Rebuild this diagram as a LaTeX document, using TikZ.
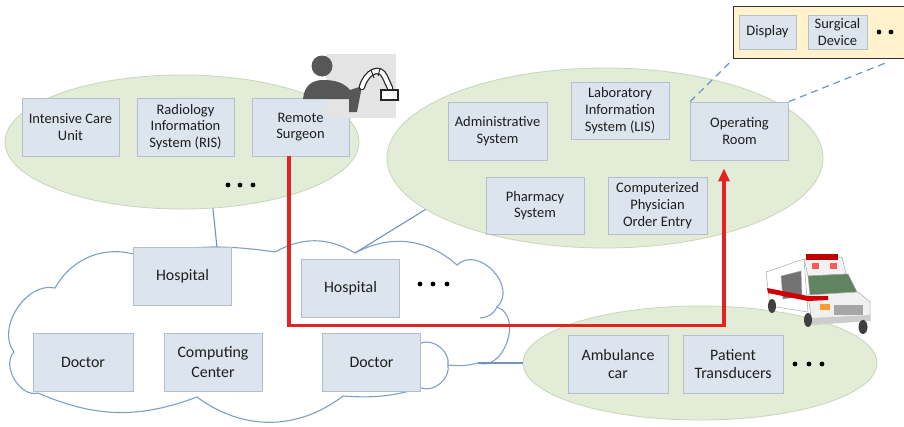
\documentclass[tikz,border=0pt]{standalone}
\usepackage{fontspec}
\setmainfont{Carlito}
\usetikzlibrary{shapes.geometric,arrows.meta}

\definecolor{boxfill}{HTML}{DCE4EE}
\definecolor{boxline}{HTML}{B3BFCD}
\definecolor{zonefill}{HTML}{E2ECD6}
\definecolor{zoneline}{HTML}{C8D6B8}
\definecolor{linkblue}{HTML}{6F95BE}
\definecolor{redpath}{HTML}{E02424}
\definecolor{notefill}{HTML}{FFF2CC}
\definecolor{txt}{HTML}{1E1E1E}
\definecolor{iconbg}{HTML}{E4E4E4}
\definecolor{person}{HTML}{575757}

\tikzset{
  sysbox/.style={draw=boxline, line width=0.8pt, fill=boxfill,
    minimum width=98pt, minimum height=58pt, inner sep=0pt, align=center,
    font=\fontsize{14.5}{16.7}\selectfont, text=txt},
  bigbox/.style={sysbox, font=\fontsize{15.9}{17.5}\selectfont},
  zone/.style={ellipse, draw=zoneline, fill=zonefill, line width=0.8pt, inner sep=0pt},
  link/.style={draw=linkblue, line width=1.1pt},
  dashlink/.style={draw=linkblue, line width=1.2pt, dash pattern=on 7pt off 5pt},
  cloudline/.style={draw=linkblue!90, line width=1.1pt},
  dotfill/.style={fill=black},
}

\begin{document}
\begin{tikzpicture}[x=1pt,y=-1pt]
\useasboundingbox (0,0) rectangle (904,426);
\fill[white] (0,0) rectangle (904,426);

% ---- zones ----
\node[zone, minimum width=354pt, minimum height=134pt] (hospzone) at (182,142) {};
\node[zone, minimum width=436pt, minimum height=180pt] (hiszone) at (605,158) {};
\node[zone, minimum width=354pt, minimum height=114pt] (ambzone) at (700,363) {};

% ---- network cloud ----
\draw[cloudline, fill=white]
  (38,393) to[bend left=75] (14,352) to[bend left=70] (55,288)
  to[bend left=40] (140,256) to[bend left=10] (275,252)
  to[bend left=30] (355,253) to[bend left=35] (457,265)
  to[bend left=90,looseness=1.3] (497,307) to[bend left=90,looseness=1.2] (478,363)
  to[bend left=10] (448,365) to[bend left=60] (421,388)
  to[bend left=10] (343,396) to[bend left=37] (197,397)
  to[bend left=22] cycle;
\draw[cloudline] (497,307) to[bend left=30] (480,318);
\draw[cloudline] (421,343) to[bend left=60] (448,365);
\coordinate (cloudnotch) at (355,253);
\coordinate (cloudright) at (478,363);

% ---- links ----
\node[bigbox] (hosp1) at (182.5,276) {Hospital};
\draw[link] (hospzone.-65) -- ([xshift=-15pt]hosp1.north east);
\draw[link] (hiszone.196) -- (cloudnotch);
\draw[link] (cloudright) -- (ambzone.west);

% ---- hospital zone ----
\node[sysbox, minimum width=97pt] (icu) at (70.5,127) {Intensive Care\\Unit};
\node[sysbox, minimum width=97pt] (ris) at (185.5,127) {Radiology\\Information\\System (RIS)};
\node[sysbox, minimum width=97pt] (surgeon) at (300.5,127) {Remote\\Surgeon};
\foreach \x in {228,240,253} \fill[dotfill] (\x,185) circle (2.4pt);

% ---- information systems zone ----
\node[sysbox, minimum width=99pt] (admin) at (497.5,131) {Administrative\\System};
\node[sysbox, minimum height=57pt] (lis) at (620,110.5) {Laboratory\\Information\\System (LIS)};
\node[sysbox] (oproom) at (739.5,131) {Operating\\Room};
\node[sysbox, minimum height=57pt] (pharm) at (535,205.5) {Pharmacy\\System};
\node[sysbox, minimum width=99pt, minimum height=57pt] (cpoe) at (657.5,205.5) {Computerized\\Physician\\Order Entry};

% ---- cloud members ----
\node[bigbox] (hosp2) at (350.5,288) {Hospital};
\foreach \x in {420,433,447} \fill[dotfill] (\x,284) circle (2.4pt);
\node[bigbox, minimum width=100pt] (doc1) at (83,362.5) {Doctor};
\node[bigbox, font=\fontsize{15.9}{20}\selectfont] (comp) at (213,362.5) {Computing\\Center};
\node[bigbox] (doc2) at (371.5,362.5) {Doctor};

% ---- ambulance zone ----
\node[bigbox, minimum width=100pt] (amb) at (618,364) {Ambulance\\car};
\node[bigbox, minimum width=100pt] (pt) at (733,364) {Patient\\Transducers};
\foreach \x in {795,809,822} \fill[dotfill] (\x,364) circle (2.4pt);

% ---- remote surgery path ----
\draw[draw=redpath, line width=3.2pt, -{Triangle[length=13pt,width=11pt]}]
  ([xshift=-11.5pt]surgeon.south) -- ++(0,169) -| ([xshift=-15.5pt,yshift=-8pt]oproom.south);

% ---- operating room devices ----
\node[draw=black!80, line width=1.4pt, fill=notefill, minimum width=180pt,
      minimum height=52pt, inner sep=0pt, anchor=north west] (devices) at (733,6) {};
\node[sysbox, minimum width=57pt, minimum height=34pt] (display) at (767.5,32) {Display};
\node[sysbox, minimum width=59pt, minimum height=34pt] (surgdev) at (837.5,32) {Surgical\\Device};
\foreach \x in {879,891} \fill[dotfill] (\x,32) circle (2.4pt);
\draw[dashlink, shorten >=4pt] (oproom.north west) -- (devices.south west);
\draw[dashlink, shorten >=7pt] (oproom.north east) -- ([xshift=-20pt]devices.south east);

% ---- remote surgeon icon ----
\fill[iconbg] (326,54) rectangle (396,118);
\fill[person] (322,66) circle (10.5pt);
\fill[person] (303,99) .. controls (304,86) and (312,80) .. (323,80)
  .. controls (336,80) and (344,83) .. (350,90) -- (362,86) -- (357,112)
  -- (349,112) -- (349,99) -- cycle;
\draw[black!85, line width=6.5pt, line cap=round]
  (362,87) .. controls (366,72) and (380,65) .. (385,77) -- (390,88);
\draw[white, line width=4pt, line cap=round]
  (362,87) .. controls (366,72) and (380,65) .. (385,77) -- (390,88);
\draw[black!85, line width=1pt] (371,70) -- (374,78) (380,69) -- (378,76);
\draw[black!85, line width=1.2pt, fill=white] (381,90) rectangle (398,100);

% ---- ambulance ----
\begin{scope}[draw=black!35, line width=0.5pt]
  % rear box
  \filldraw[fill=white] (766,272) -- (804,259) -- (808,312) -- (770,306) -- cycle;
  \filldraw[fill=black!5] (804,259) -- (842,257) -- (846,274) -- (808,276) -- cycle;
  \fill[red!75!black] (806,254) rectangle (838,260);
  \fill[red!65] (812,263) rectangle (819,269);
  \fill[red!65] (830,263) rectangle (837,269);
  % side windows
  \filldraw[fill=black!55] (781,276) -- (801,271) -- (802,296) -- (783,299) -- cycle;
  % cab: windshield, hood, grille
  \filldraw[fill=black!45!green!25!gray] (808,276) -- (848,274) -- (857,292) -- (810,295) -- cycle;
  \filldraw[fill=black!6] (808,295) -- (858,292) -- (870,302) -- (870,320) -- (812,324) -- cycle;
  \fill[black!35] (834,305) rectangle (863,315);
  \fill[orange!80] (820,304) rectangle (830,310);
  \fill[black!20] (812,318) -- (870,315) -- (870,321) -- (812,325) -- cycle;
  % stripe
  \fill[red!80!black] (767,288) -- (808,296) -- (828,296) -- (828,300) -- (808,301) -- (768,293) -- cycle;
  % wheels
  \fill[black!75] (772,306) ellipse (4pt and 7pt);
  \fill[black!75] (808,320) ellipse (4pt and 7pt);
  \fill[black!75] (863,327) ellipse (4.5pt and 7pt);
\end{scope}
\end{tikzpicture}
\end{document}
